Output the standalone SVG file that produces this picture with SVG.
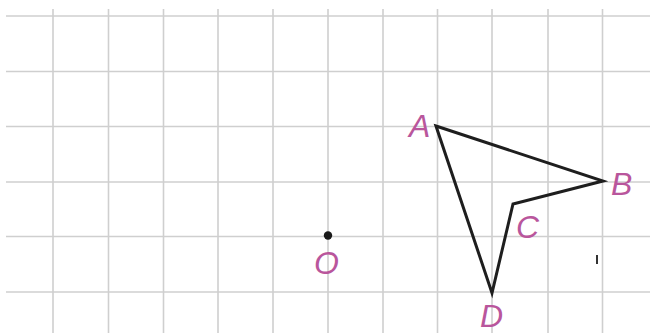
<svg xmlns="http://www.w3.org/2000/svg" width="650" height="333" viewBox="0 0 650 333">
<style>
.grid line{stroke:#cfcfcf;stroke-width:1.6}
.edge{stroke:#1e1e1e;stroke-width:3;fill:none;stroke-linejoin:miter;stroke-linecap:round}
.lbl{font-family:"Liberation Sans",Arial,sans-serif;font-style:italic;font-size:32px;fill:#b9569c}
</style>
<rect width="650" height="333" fill="#ffffff"/>
<g id="grid" class="grid">
<line x1="6" y1="16" x2="650" y2="16"/>
<line x1="6" y1="71.5" x2="650" y2="71.5"/>
<line x1="6" y1="126.5" x2="650" y2="126.5"/>
<line x1="6" y1="182" x2="650" y2="182"/>
<line x1="6" y1="236.5" x2="650" y2="236.5"/>
<line x1="6" y1="292" x2="650" y2="292"/>
<line x1="53" y1="9" x2="53" y2="333"/>
<line x1="108.5" y1="9" x2="108.5" y2="333"/>
<line x1="163.5" y1="9" x2="163.5" y2="333"/>
<line x1="218" y1="9" x2="218" y2="333"/>
<line x1="273" y1="9" x2="273" y2="333"/>
<line x1="328" y1="9" x2="328" y2="333"/>
<line x1="383" y1="9" x2="383" y2="333"/>
<line x1="437.5" y1="9" x2="437.5" y2="333"/>
<line x1="492" y1="9" x2="492" y2="333"/>
<line x1="548" y1="9" x2="548" y2="333"/>
<line x1="602.5" y1="9" x2="602.5" y2="333"/>
</g>
<g id="connectors">
<polygon class="edge" points="436,126 603,181 513,204 492,293"/>
</g>
<g id="A"><text class="lbl" x="409" y="137">A</text></g>
<g id="B"><text class="lbl" x="611" y="195">B</text></g>
<g id="C"><text class="lbl" x="516" y="238">C</text></g>
<g id="D"><text class="lbl" x="480" y="327" font-size="31">D</text></g>
<g id="O">
<circle cx="328" cy="235.5" r="4.2" fill="#1a1a1a"/>
<text class="lbl" x="314" y="274">O</text>
</g>
<line x1="597" y1="255" x2="597" y2="264" stroke="#333" stroke-width="2"/>
</svg>
